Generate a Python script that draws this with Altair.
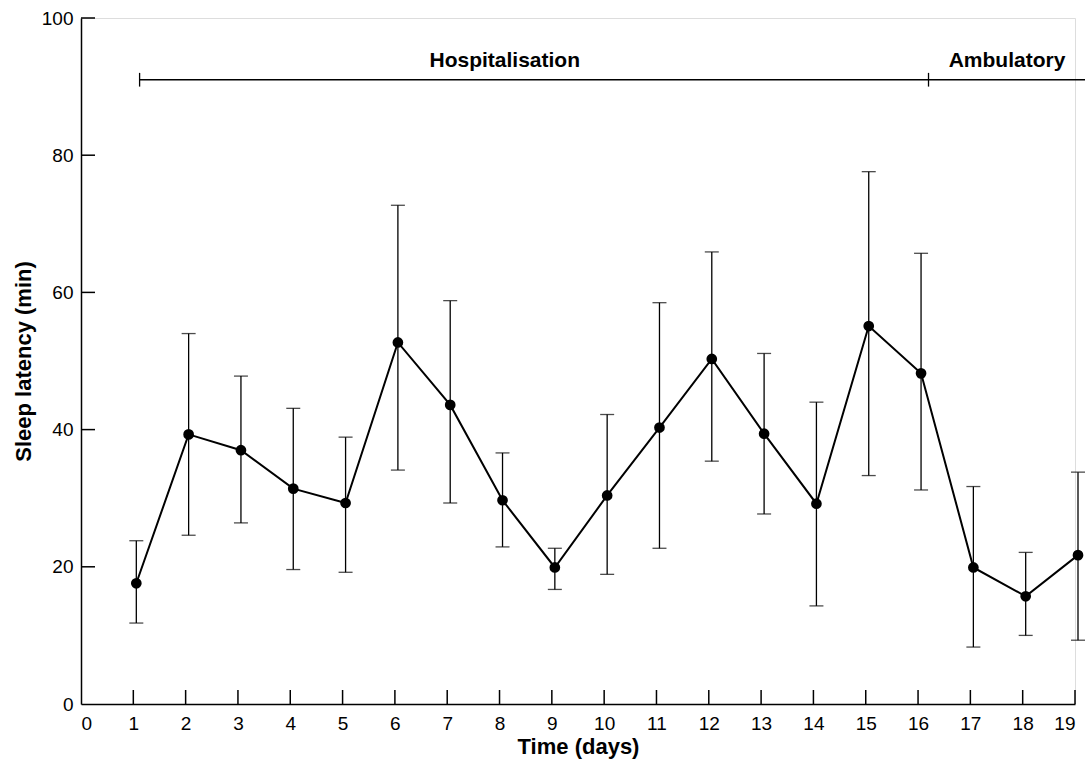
import altair as alt
import pandas as pd

days = list(range(1, 20))
mean = [17.6, 39.3, 37.0, 31.4, 29.3, 52.7, 43.6, 29.7, 19.9, 30.4, 40.3, 50.3, 39.4, 29.2, 55.1, 48.2, 19.9, 15.7, 21.7]
upper = [23.8, 54.0, 47.8, 43.1, 38.9, 72.7, 58.8, 36.6, 22.7, 42.2, 58.5, 65.9, 51.1, 44.0, 77.6, 65.7, 31.7, 22.1, 33.8]
lower = [11.8, 24.6, 26.4, 19.6, 19.2, 34.1, 29.3, 22.9, 16.7, 18.9, 22.7, 35.4, 27.7, 14.3, 33.3, 31.2, 8.3, 10.0, 9.3]

x_ticks = list(range(0, 20))
y_ticks = [0, 20, 40, 60, 80, 100]

phase_labels = ["Hospitalisation", "Ambulatory"]
phase_label_x = [8.1, 17.7]
phase_label_y = [93.7, 93.7]
bracket_start = 1.12
bracket_split = 16.2
bracket_end = 19.2
bracket_y = 91.0

W, H = 994, 686
FONT = "Liberation Sans"

df = pd.DataFrame({"day": days, "mean": mean, "upper": upper, "lower": lower})

xs = alt.Scale(domain=[0, 19], nice=False, zero=False)
ys = alt.Scale(domain=[0, 100], nice=False)

x_axis = alt.Axis(values=x_ticks, ticks=False, title="Time (days)",
                  labelPadding=10, titlePadding=3, grid=False, domainColor="black",
                  domainWidth=1.5, labelFont=FONT, labelFontSize=19, labelColor="black",
                  titleFont=FONT, titleFontSize=22, titleFontWeight="bold", titleColor="black",
                  format="d")
y_axis = alt.Axis(values=y_ticks, ticks=False, title="Sleep latency (min)",
                  labelPadding=8, titlePadding=6, grid=False, domainColor="black",
                  domainWidth=1.5, labelFont=FONT, labelFontSize=19, labelColor="black",
                  titleFont=FONT, titleFontSize=22, titleFontWeight="bold", titleColor="black")


def X(field):
    return alt.X(field, scale=xs, axis=x_axis)


def Y(field):
    return alt.Y(field, scale=ys, axis=y_axis)


base = alt.Chart(df)

line = base.mark_line(color="black", strokeWidth=2, xOffset=3, clip=False).encode(
    x=X("day:Q"), y=Y("mean:Q"))

bars = base.mark_rule(color="black", strokeWidth=1.3, xOffset=3, clip=False).encode(
    x=X("day:Q"), y=Y("lower:Q"), y2="upper:Q")

cap_up = base.mark_tick(color="black", orient="horizontal", size=14, thickness=1.3, xOffset=3, clip=False).encode(
    x=X("day:Q"), y=Y("upper:Q"))
cap_lo = base.mark_tick(color="black", orient="horizontal", size=14, thickness=1.3, xOffset=3, clip=False).encode(
    x=X("day:Q"), y=Y("lower:Q"))

pts = base.mark_circle(color="black", opacity=1, size=115, xOffset=3, clip=False).encode(
    x=X("day:Q"), y=Y("mean:Q"))

# inward ticks
xt = alt.Chart(pd.DataFrame({"t": x_ticks[1:]})).mark_rule(color="black", strokeWidth=1.5).encode(
    x=X("t:Q"), y=alt.value(H), y2=alt.value(H - 14))
yt = alt.Chart(pd.DataFrame({"t": y_ticks[1:]})).mark_rule(color="black", strokeWidth=1.5).encode(
    y=Y("t:Q"), x=alt.value(0), x2=alt.value(14))

# phase bracket
br = alt.Chart(pd.DataFrame({"a": [bracket_start], "b": [bracket_end], "y": [bracket_y]})).mark_rule(
    color="black", strokeWidth=1.3, clip=False).encode(
    x=X("a:Q"), x2="b:Q", y=Y("y:Q"))
br_ticks = alt.Chart(pd.DataFrame({"x": [bracket_start, bracket_split],
                                   "y1": [bracket_y - 1.0, bracket_y - 1.0],
                                   "y2": [bracket_y + 1.0, bracket_y + 1.0]})).mark_rule(
    color="black", strokeWidth=1.3, clip=False).encode(
    x=X("x:Q"), y=Y("y1:Q"), y2="y2:Q")
labels = alt.Chart(pd.DataFrame({"label": phase_labels, "x": phase_label_x, "y": phase_label_y})).mark_text(
    font=FONT, fontSize=21, fontWeight="bold", color="black", baseline="middle", align="center", clip=False).encode(
    x=X("x:Q"), y=Y("y:Q"), text="label:N")

chart = alt.layer(line, bars, cap_up, cap_lo, pts, xt, yt, br, br_ticks, labels).properties(
    width=W, height=H,
    autosize=alt.AutoSizeParams(type="none"),
    padding={"left": 81, "top": 18, "right": 10, "bottom": 61},
).configure_view(strokeWidth=0, stroke="transparent").configure(background="white")

chart.save("out.html", embed_options={"renderer": "svg", "actions": False})
